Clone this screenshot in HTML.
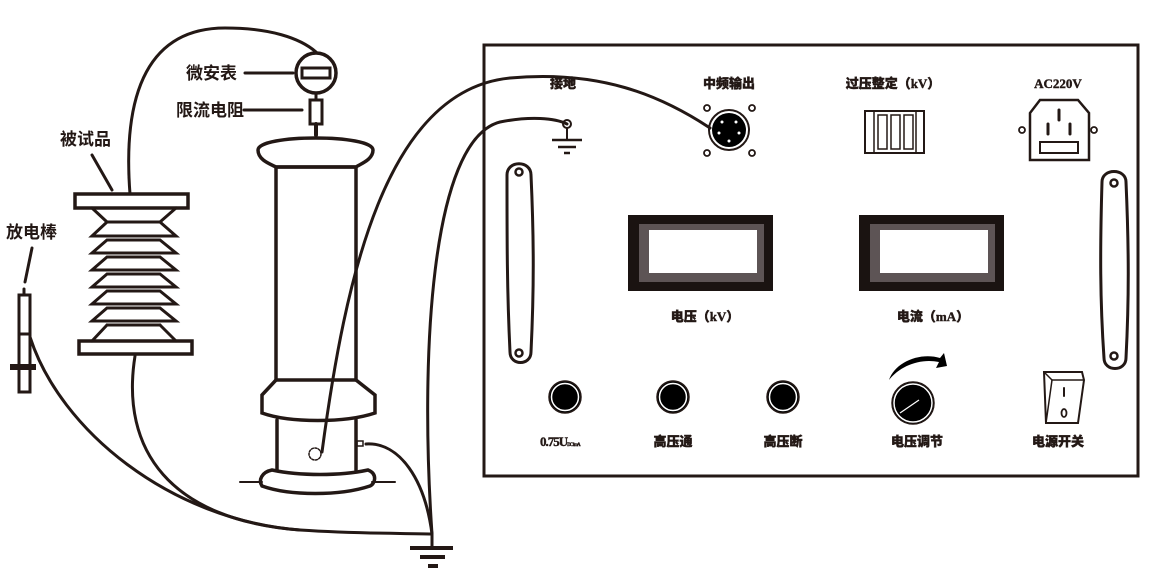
<!DOCTYPE html>
<html><head><meta charset="utf-8"><style>
html,body{margin:0;padding:0;background:#fff;}
svg{display:block;}
text{font-family:"Liberation Sans","Noto Sans CJK SC",sans-serif;fill:#231815;}
.b{font-weight:900;font-size:13px;font-family:"Liberation Serif","Noto Sans CJK SC",serif;stroke:#231815;stroke-width:0.4;}
.l{font-weight:bold;font-size:17px;font-family:"Liberation Sans","Noto Sans CJK SC",sans-serif;}
</style></head><body>
<svg width="1152" height="575" viewBox="0 0 1152 575" xmlns="http://www.w3.org/2000/svg">
<g stroke="#231815" fill="none" stroke-width="3" stroke-linecap="round">
<rect x="484" y="45" width="654" height="431" stroke-width="3"/>
<path d="M130,194 C122,90 150,28 225,28 C270,28 300,38 316,52"/>
<path d="M135,356 C120,450 170,520 300,530 C360,534 400,533 432,534"/>
<path d="M30,337 C60,430 170,520 300,530"/>
<path d="M322,452 C345,280 385,90 510,78 C600,70 660,95 710,128"/>
<path d="M432,534 C420,360 430,140 500,122 C530,116 555,118 567,124"/>
<path d="M366,444 C400,442 425,480 432,534"/>
<line x1="410" y1="548" x2="453" y2="548" stroke-width="4" stroke-linecap="butt"/>
<line x1="420" y1="557" x2="445" y2="557" stroke-width="4" stroke-linecap="butt"/>
<line x1="428" y1="566" x2="438" y2="566" stroke-width="4" stroke-linecap="butt"/>
<line x1="432" y1="534" x2="432" y2="548"/>
<circle cx="316" cy="73" r="20" stroke-width="3.5"/>
<rect x="302" y="68" width="28" height="10" stroke-width="3"/>
<line x1="245" y1="73" x2="293" y2="73"/>
<line x1="244" y1="110" x2="302" y2="110"/>
<rect x="310" y="100" width="12" height="24" stroke-width="3"/>
<line x1="316" y1="93" x2="316" y2="100"/>
<line x1="316" y1="124" x2="316" y2="135" stroke-width="4"/>
<path d="M258,150 C258,134 373,134 373,150 C373,160 360,164 356,167 L276,167 C270,164 258,160 258,150 Z" stroke-width="3.5"/>
<rect x="276" y="167" width="80" height="213" stroke-width="3.5"/>
<path d="M276,380 L262,395 L262,413 C290,423 345,423 375,413 L375,395 L356,380" stroke-width="3.5"/>
<line x1="277" y1="420" x2="277" y2="470" stroke-width="3.5"/>
<line x1="356" y1="420" x2="356" y2="470" stroke-width="3.5"/>
<path d="M272,470 C300,476 340,476 368,470 C378,474 375,484 370,486 C340,496 290,496 262,486 C258,480 262,472 272,470 Z" stroke-width="3.5"/>
<line x1="240" y1="482" x2="262" y2="482" stroke-width="2"/>
<line x1="372" y1="482" x2="395" y2="482" stroke-width="2"/>
<circle cx="315" cy="454" r="6" stroke-width="1.5" stroke-dasharray="2 1.5"/>
<rect x="357" y="441" width="6" height="5" stroke-width="1.5"/>
<!-- insulator -->
<g stroke-width="3" stroke-linejoin="miter" fill="#fff">
<path d="M92,208 L107,222 L160,222 L176,208"/>
<path d="M107,222 L92,236 L176,236 L160,222 Z"/>
<path d="M107,240 L92,253 L176,253 L160,240 Z"/>
<path d="M107,257 L92,270 L176,270 L160,257 Z"/>
<path d="M107,274 L92,287 L176,287 L160,274 Z"/>
<path d="M107,291 L92,304 L176,304 L160,291 Z"/>
<path d="M107,308 L92,321 L176,321 L160,308 Z"/>
<path d="M107,325 L92,341 M160,325 L176,341" fill="none"/>
<line x1="107" y1="325" x2="160" y2="325"/>
</g>
<g stroke-width="3">
<line x1="107" y1="222" x2="107" y2="222"/>
</g>
<rect x="75" y="194" width="113" height="14" stroke-width="3.5"/>
<rect x="79" y="341" width="113" height="13" stroke-width="3.5"/>
<line x1="92" y1="155" x2="112" y2="190"/>
<rect x="19" y="295" width="11" height="97" stroke-width="3"/>
<line x1="19" y1="334" x2="30" y2="334"/>
<line x1="24" y1="289" x2="24" y2="295"/>
<rect x="10" y="364" width="26" height="6" fill="#231815" stroke="none"/>
<line x1="32" y1="248" x2="25" y2="282"/>
<circle cx="567" cy="124" r="4" stroke-width="2"/>
<line x1="567" y1="128" x2="567" y2="140" stroke-width="2"/>
<line x1="552" y1="140" x2="582" y2="140" stroke-width="2.5" stroke-linecap="butt"/>
<line x1="558" y1="147" x2="576" y2="147" stroke-width="2.5" stroke-linecap="butt"/>
<line x1="564" y1="153" x2="570" y2="153" stroke-width="2.5" stroke-linecap="butt"/>
<circle cx="729" cy="130" r="20" stroke-width="2"/>
<circle cx="729" cy="130" r="17" fill="#000" stroke="none"/>
<g stroke-width="1.8"><circle cx="707" cy="108" r="3"/><circle cx="752" cy="108" r="3"/><circle cx="707" cy="153" r="3"/><circle cx="752" cy="153" r="3"/></g>
<g fill="#fff" stroke="none"><circle cx="722" cy="122" r="1.5"/><circle cx="736" cy="122" r="1.5"/><circle cx="719" cy="133" r="1.5"/><circle cx="739" cy="133" r="1.5"/><circle cx="729" cy="141" r="1.5"/></g>
<rect x="865" y="111" width="59" height="42" stroke-width="2"/>
<line x1="874" y1="111" x2="874" y2="153" stroke-width="1.5"/>
<line x1="916" y1="111" x2="916" y2="153" stroke-width="1.5"/>
<g stroke-width="1.5"><rect x="878" y="115" width="9" height="34"/><rect x="891" y="115" width="9" height="34"/><rect x="904" y="115" width="9" height="34"/></g>
<path d="M1040,100 L1078,100 L1089,113 L1089,160 L1030,160 L1030,113 Z" stroke-width="2.5"/>
<rect x="1040" y="142" width="38" height="11" stroke-width="2"/>
<g stroke-width="3"><line x1="1059" y1="110" x2="1059" y2="120"/><line x1="1048" y1="124" x2="1048" y2="134"/><line x1="1070" y1="124" x2="1070" y2="134"/></g>
<circle cx="1022" cy="130" r="3" stroke-width="1.8"/><circle cx="1094" cy="130" r="3" stroke-width="1.8"/>
<path d="M507,175 C507,160 531,160 531,175 C534,240 534,290 531,352 C531,366 510,366 510,352 C507,290 507,240 507,175 Z" stroke-width="3"/>
<circle cx="519" cy="172" r="3.5" stroke-width="2.5"/><circle cx="519" cy="353" r="3.5" stroke-width="2.5"/>
<path d="M1102,182 C1102,168 1126,168 1126,182 C1129,250 1129,300 1126,358 C1126,372 1104,372 1104,358 C1100,300 1100,250 1102,182 Z" stroke-width="3"/>
<circle cx="1114" cy="183" r="3.5" stroke-width="2.5"/><circle cx="1114" cy="356" r="3.5" stroke-width="2.5"/>
<path d="M1044,372 L1082,372 L1084,380 L1078,423 L1046,423 Z" stroke-width="2"/>
<line x1="1044" y1="372" x2="1052" y2="380" stroke-width="1.5"/><line x1="1052" y1="380" x2="1084" y2="380" stroke-width="1.5"/><line x1="1052" y1="380" x2="1046" y2="423" stroke-width="1.5"/>
<line x1="1064" y1="388" x2="1064" y2="396" stroke-width="2"/>
<ellipse cx="1064" cy="413" rx="2.5" ry="4" stroke-width="1.8"/>
</g>
<rect x="628" y="215" width="145" height="76" fill="#1a1311"/>
<rect x="639" y="224" width="125" height="58" fill="#5d5455"/>
<rect x="649" y="230" width="108" height="43" fill="#fff"/>
<rect x="859" y="215" width="145" height="76" fill="#1a1311"/>
<rect x="870" y="224" width="125" height="58" fill="#5d5455"/>
<rect x="880" y="230" width="108" height="43" fill="#fff"/>
<g fill="#000" stroke="#231815" stroke-width="1.5">
<circle cx="565" cy="397" r="16"/><circle cx="673" cy="397" r="16"/><circle cx="783" cy="397" r="16"/>
<circle cx="913" cy="403" r="21"/>
</g>
<g fill="none" stroke="#fff" stroke-width="1.5">
<circle cx="565" cy="397" r="13.5"/><circle cx="673" cy="397" r="13.5"/><circle cx="783" cy="397" r="13.5"/>
<circle cx="913" cy="403" r="19"/>
<line x1="900" y1="413" x2="919" y2="400" stroke-width="1.2"/>
</g>
<path d="M889,380 C895,362 920,352 940,358 L944,353 L947,366 L936,368 L939,362 C920,358 900,366 889,380 Z" fill="#000"/>
<text class="l" x="186" y="79">微安表</text>
<text class="l" x="176" y="116">限流电阻</text>
<text class="l" x="60" y="145">被试品</text>
<text class="l" x="6" y="238">放电棒</text>
<text class="b" x="563" y="88" text-anchor="middle">接地</text>
<text class="b" x="729" y="88" text-anchor="middle">中频输出</text>
<text class="b" x="893" y="88" text-anchor="middle">过压整定（kV）</text>
<text class="b" x="1058" y="88" text-anchor="middle">AC220V</text>
<text class="b" x="705" y="321" text-anchor="middle">电压（kV）</text>
<text class="b" x="933" y="321" text-anchor="middle">电流（mA）</text>
<text class="b" x="540" y="446" style="letter-spacing:-1px">0.75U<tspan font-size="5">DC1mA</tspan></text>
<text class="b" x="673" y="446" text-anchor="middle">高压通</text>
<text class="b" x="783" y="446" text-anchor="middle">高压断</text>
<text class="b" x="917" y="446" text-anchor="middle">电压调节</text>
<text class="b" x="1058" y="446" text-anchor="middle">电源开关</text>
</svg>
</body></html>
